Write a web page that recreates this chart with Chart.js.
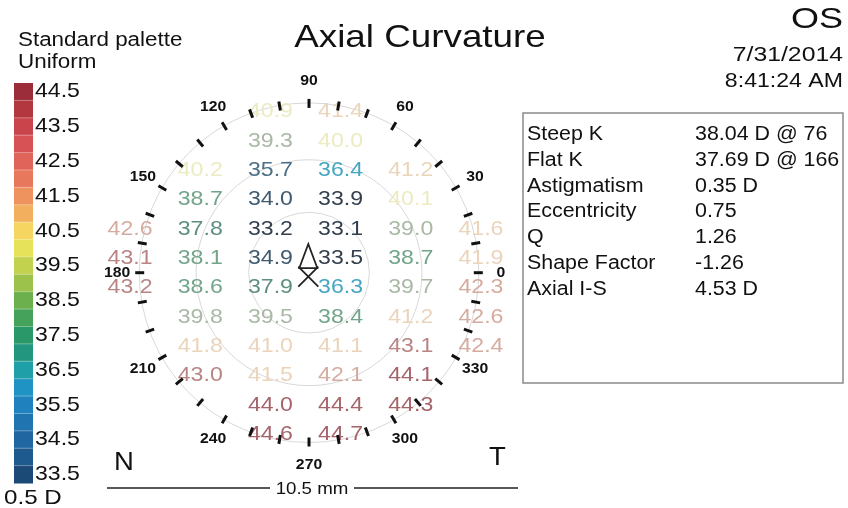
<!DOCTYPE html>
<html>
<head>
<meta charset="utf-8">
<script src="https://cdn.jsdelivr.net/npm/chart.js@4"></script>
<style>
  body { margin: 0; background: #fff; }
  #wrap { position: relative; width: 848px; height: 508px; }
</style>
</head>
<body>
<div id="wrap"><canvas id="mapChart" width="848" height="508"></canvas></div>
<script>
// grid of the axial map, rows top to bottom, columns nasal (left) to temporal (right)
var gridCols = [0, 1, 2, 3, 4, 5];
var curvature = [
    [null, null, 40.9, 41.4, null, null],
    [null, null, 39.3, 40.0, null, null],
    [null, 40.2, 35.7, 36.4, 41.2, null],
    [null, 38.7, 34.0, 33.9, 40.1, null],
    [42.6, 37.8, 33.2, 33.1, 39.0, 41.6],
    [43.1, 38.1, 34.9, 33.5, 38.7, 41.9],
    [43.2, 38.6, 37.9, 36.3, 39.7, 42.3],
    [null, 39.8, 39.5, 38.4, 41.2, 42.6],
    [null, 41.8, 41.0, 41.1, 43.1, 42.4],
    [null, 43.0, 41.5, 42.1, 44.1, null],
    [null, null, 44.0, 44.4, 44.3, null],
    [null, null, 44.6, 44.7, null, null]
];

// colour scale (0.5 D steps) and its labels
var paletteSteps = [44.5, 44.0, 43.5, 43.0, 42.5, 42.0, 41.5, 41.0, 40.5, 40.0, 39.5, 39.0,
                    38.5, 38.0, 37.5, 37.0, 36.5, 36.0, 35.5, 35.0, 34.5, 34.0, 33.5];
var paletteColors = ['#9a2d39', '#b3373f', '#c9444b', '#d65255', '#e0645a', '#e8785c',
                     '#ee935e', '#f2b05e', '#f6d660', '#e6e35a', '#c2d24e', '#9cc24c',
                     '#6cb04e', '#44a25a', '#2a9868', '#22967e', '#1fa0a8', '#1f94c4',
                     '#1f82be', '#2074b0', '#2066a0', '#1f5a8e', '#1c4a76'];
var legendLabels = ['44.5', '43.5', '42.5', '41.5', '40.5', '39.5', '38.5', '37.5', '36.5', '35.5', '34.5', '33.5'];
// printed (washed out) colours of the map numbers, one per legend label
var textColors = ['#a4646a', '#b98483', '#d6ab9f', '#ead4ba', '#ecebc2', '#a9b9a6',
                  '#72a58a', '#5d8e82', '#45a6c2', '#4d6f88', '#3e5a70', '#333f4c'];

// ring angles
var ringTicks = [0, 10, 20, 30, 40, 50, 60, 70, 80, 90, 100, 110, 120, 130, 140, 150, 160, 170,
                 180, 190, 200, 210, 220, 230, 240, 250, 260, 270, 280, 290, 300, 310, 320, 330, 340, 350];
var ringLabels = [0, 30, 60, 90, 120, 150, 180, 210, 240, 270, 300, 330];

var statNames = ['Steep K', 'Flat K', 'Astigmatism', 'Eccentricity', 'Q', 'Shape Factor', 'Axial I-S'];
var statValues = ['38.04 D @ 76', '37.69 D @ 166', '0.35 D', '0.75', '1.26', '-1.26', '4.53 D'];

var FONT = 'Arial, "Liberation Sans", sans-serif';

function textColorFor(v) {
    for (var i = 0; i < legendLabels.length; i++) {
        var mid = parseFloat(legendLabels[i]);
        if (v >= mid - 0.5) return textColors[i];
    }
    return textColors[textColors.length - 1];
}

function stretchText(ctx, str, x, y, font, sx, align) {
    ctx.save();
    ctx.font = font;
    ctx.textAlign = align || 'left';
    ctx.translate(x, y);
    ctx.scale(sx, 1);
    ctx.fillText(str, 0, 0);
    ctx.restore();
}

var points = [];
curvature.forEach(function(row, r) {
    gridCols.forEach(function(c) {
        if (row[c] !== null) points.push({ x: c, y: r, v: row[c] });
    });
});

var mapPlugin = {
    id: 'mapPlugin',
    afterDatasetsDraw: function(chart) {
        var ctx = chart.ctx;
        var xs = chart.scales.x, ys = chart.scales.y;
        var cx = xs.getPixelForValue(2.55), cy = ys.getPixelForValue(5.49);
        var unit = xs.getPixelForValue(1) - xs.getPixelForValue(0);
        var R = 2.42 * unit;

        // faint zone circles
        ctx.save();
        ctx.strokeStyle = '#d8d8d8';
        ctx.lineWidth = 1;
        [0.86, 1.61, 2.42].forEach(function(k) {
            ctx.beginPath();
            ctx.arc(cx, cy, k * unit, 0, Math.PI * 2);
            ctx.stroke();
        });
        ctx.restore();

        // numbers
        var meta = chart.getDatasetMeta(0);
        meta.data.forEach(function(pt, i) {
            var v = points[i].v;
            ctx.fillStyle = textColorFor(v);
            ctx.save();
            ctx.textBaseline = 'middle';
            stretchText(ctx, v.toFixed(1), pt.x, pt.y, '21px ' + FONT, 1.1, 'center');
            ctx.restore();
        });

        // ring ticks and angle labels
        ctx.save();
        ctx.strokeStyle = '#111';
        ctx.lineWidth = 3;
        ringTicks.forEach(function(d) {
            var a = d * Math.PI / 180;
            ctx.beginPath();
            ctx.moveTo(cx + Math.cos(a) * (R - 5), cy - Math.sin(a) * (R - 5));
            ctx.lineTo(cx + Math.cos(a) * (R + 4), cy - Math.sin(a) * (R + 4));
            ctx.stroke();
        });
        ctx.fillStyle = '#111';
        ctx.textBaseline = 'middle';
        ringLabels.forEach(function(d) {
            var a = d * Math.PI / 180;
            stretchText(ctx, String(d), cx + Math.cos(a) * (R + 22), cy - Math.sin(a) * (R + 22),
                'bold 15px ' + FONT, 1.05, 'center');
        });
        ctx.restore();

        // pupil centre (triangle) and corneal vertex (cross)
        var tx = xs.getPixelForValue(2.54), ty = ys.getPixelForValue(4.99);
        var kx = xs.getPixelForValue(2.54), ky = ys.getPixelForValue(5.62);
        ctx.save();
        ctx.strokeStyle = '#222';
        ctx.lineWidth = 1.8;
        ctx.beginPath();
        ctx.moveTo(tx, ty - 14);
        ctx.lineTo(tx - 9, ty + 10);
        ctx.lineTo(tx + 9, ty + 10);
        ctx.closePath();
        ctx.stroke();
        ctx.beginPath();
        ctx.moveTo(kx - 10, ky - 10);
        ctx.lineTo(kx + 10, ky + 10);
        ctx.moveTo(kx + 10, ky - 10);
        ctx.lineTo(kx - 10, ky + 10);
        ctx.stroke();
        ctx.restore();
    },
    afterDraw: function(chart) {
        var ctx = chart.ctx;
        ctx.save();
        ctx.fillStyle = '#111';

        // colour bar
        var top = 83, cell = 400 / paletteSteps.length;
        paletteColors.forEach(function(col, i) {
            ctx.fillStyle = col;
            ctx.fillRect(14, top + i * cell, 19, cell + 0.5);
        });
        ctx.strokeStyle = 'rgba(255,255,255,0.35)';
        ctx.lineWidth = 1;
        for (var i = 1; i < paletteSteps.length; i++) {
            ctx.beginPath();
            ctx.moveTo(14, top + i * cell);
            ctx.lineTo(33, top + i * cell);
            ctx.stroke();
        }
        ctx.fillStyle = '#111';
        ctx.textBaseline = 'middle';
        legendLabels.forEach(function(lab, i) {
            stretchText(ctx, lab, 35, top + (2 * i + 0.5) * cell, '21px ' + FONT, 1.1);
        });
        ctx.textBaseline = 'alphabetic';
        stretchText(ctx, 'Standard palette', 18, 46, '20px ' + FONT, 1.12);
        stretchText(ctx, 'Uniform', 18, 68, '20px ' + FONT, 1.12);
        stretchText(ctx, '0.5 D', 4, 504, '21px ' + FONT, 1.15);
        stretchText(ctx, 'N', 114, 470, '25px ' + FONT, 1.1);
        stretchText(ctx, 'T', 489, 465, '25px ' + FONT, 1.1);

        // header
        stretchText(ctx, 'Axial Curvature', 420, 47, '32px ' + FONT, 1.15, 'center');
        stretchText(ctx, 'OS', 843, 28, '30px ' + FONT, 1.2, 'right');
        stretchText(ctx, '7/31/2014', 843, 61, '21px ' + FONT, 1.18, 'right');
        stretchText(ctx, '8:41:24 AM', 843, 87, '21px ' + FONT, 1.1, 'right');

        // stats box
        ctx.strokeStyle = '#8a8a8a';
        ctx.lineWidth = 1.5;
        ctx.strokeRect(523, 113, 320, 270);
        statNames.forEach(function(name, i) {
            var y = 140 + i * 25.8;
            stretchText(ctx, name, 527, y, '20px ' + FONT, 1.07);
            stretchText(ctx, statValues[i], 695, y, '20px ' + FONT, 1.07);
        });

        // scale bar
        ctx.strokeStyle = '#222';
        ctx.lineWidth = 1.5;
        ctx.beginPath();
        ctx.moveTo(107, 488);
        ctx.lineTo(270, 488);
        ctx.moveTo(354, 488);
        ctx.lineTo(518, 488);
        ctx.stroke();
        stretchText(ctx, '10.5 mm', 312, 494, '17px ' + FONT, 1.1, 'center');
        ctx.restore();
    }
};

var ctx = document.getElementById('mapChart').getContext('2d');
var mapChart = new Chart(ctx, {
    type: 'scatter',
    data: {
        datasets: [{
            data: points,
            pointRadius: 0,
            pointHoverRadius: 0
        }]
    },
    options: {
        responsive: false,
        animation: false,
        events: [],
        layout: { padding: { left: 95, right: 332, top: 97, bottom: 59 } },
        scales: {
            x: { display: false, min: -0.5, max: 5.5 },
            y: { display: false, min: -0.5, max: 11.5, reverse: true }
        },
        plugins: { legend: { display: false }, tooltip: { enabled: false }, title: { display: false } }
    },
    plugins: [mapPlugin]
});
</script>
</body>
</html>
